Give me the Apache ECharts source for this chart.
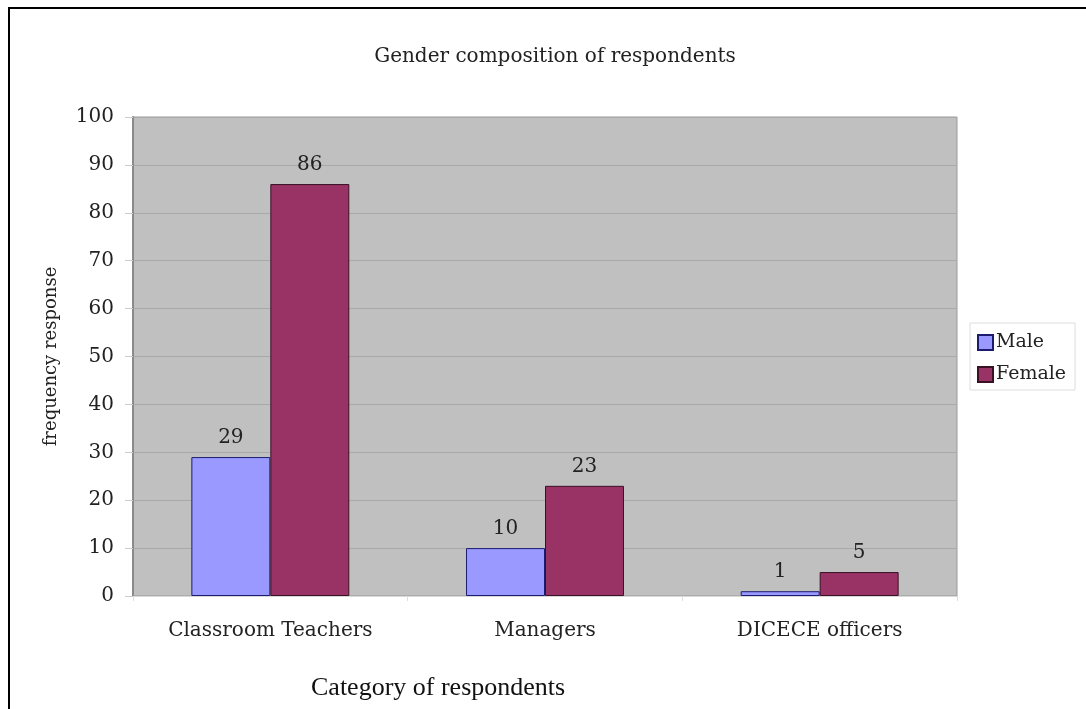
<!DOCTYPE html>
<html>
<head>
<meta charset="utf-8">
<script src="https://cdn.jsdelivr.net/npm/echarts@6/dist/echarts.min.js"></script>
<style>
  html, body { margin: 0; padding: 0; background: #fff; }
  #container { width: 1086px; height: 709px; }
</style>
</head>
<body>
<div id="container"></div>
<script>
var categories = ['Classroom Teachers', 'Managers', 'DICECE officers'];
var maleValues = [29, 10, 1];
var femaleValues = [86, 23, 5];
var yTicks = [0, 10, 20, 30, 40, 50, 60, 70, 80, 90, 100];

// the chart text is a wide serif, DejaVu Serif is the closest installed
var serif = '"DejaVu Serif", serif';

var dom = document.getElementById('container');
var myChart = echarts.init(dom);

var labelStyle = {
    show: true,
    position: 'top',
    distance: 9,
    fontFamily: serif,
    fontSize: 20,
    color: '#222'
};

option = {
    animation: false,
    backgroundColor: '#fff',
    title: {
        text: 'Gender composition of respondents',
        left: 550,
        textAlign: 'center',
        top: 42,
        textStyle: {
            fontFamily: serif,
            fontSize: 20,
            fontWeight: 'normal',
            color: '#222'
        }
    },
    legend: {
        orient: 'vertical',
        left: 970,
        top: 323,
        padding: [10, 9, 6, 7],
        itemGap: 13,
        icon: 'rect',
        itemWidth: 15,
        itemHeight: 15,
        borderColor: '#ddd',
        borderWidth: 1,
        textStyle: {
            fontFamily: serif,
            fontSize: 19,
            color: '#222',
            padding: [0, 0, 0, -2]
        },
        data: ['Male', 'Female']
    },
    grid: {
        left: 133,
        top: 117,
        right: 129,
        bottom: 113,
        show: true,
        backgroundColor: '#c0c0c0',
        borderColor: '#9a9a9a',
        borderWidth: 1
    },
    xAxis: {
        type: 'category',
        data: categories,
        axisLine: { show: true, lineStyle: { color: '#d8d8d8', width: 1 } },
        axisTick: { show: true, length: 5, lineStyle: { color: '#ddd' } },
        axisLabel: {
            margin: 25,
            fontFamily: serif,
            fontSize: 20,
            color: '#222'
        }
    },
    yAxis: {
        type: 'value',
        min: 0,
        max: 100,
        interval: 10,
        name: 'frequency response',
        nameLocation: 'middle',
        nameGap: 73,
        nameTextStyle: {
            fontFamily: serif,
            fontSize: 18,
            color: '#222'
        },
        axisLine: { show: true, lineStyle: { color: '#8a8a8a', width: 2 } },
        axisTick: { show: true, length: 8, lineStyle: { color: '#ccc' } },
        axisLabel: {
            margin: 19,
            fontFamily: serif,
            fontSize: 20,
            color: '#222',
            formatter: function (v) { return yTicks.indexOf(v) >= 0 ? String(v) : ''; }
        },
        splitLine: { show: true, lineStyle: { color: '#a9a9a9', width: 1 } }
    },
    series: [{
        name: 'Male',
        type: 'bar',
        data: maleValues,
        barGap: '0%',
        barCategoryGap: '42.5%',
        itemStyle: { color: '#9999ff', borderColor: '#1c1c6e', borderWidth: 1 },
        label: labelStyle
    }, {
        name: 'Female',
        type: 'bar',
        data: femaleValues,
        itemStyle: { color: '#993366', borderColor: '#3a1024', borderWidth: 1 },
        label: labelStyle
    }],
    graphic: [{
        type: 'line',
        shape: { x1: 9, y1: 8, x2: 9, y2: 709 },
        style: { stroke: '#000', lineWidth: 2 }
    }, {
        type: 'line',
        shape: { x1: 8, y1: 8, x2: 1086, y2: 8 },
        style: { stroke: '#000', lineWidth: 2 }
    }, {
        type: 'text',
        left: 311,
        top: 675,
        style: {
            text: 'Category of respondents',
            font: '26px "Liberation Serif", serif',
            fill: '#111'
        }
    }]
};
myChart.setOption(option);

window.addEventListener("resize", function () {
    myChart.resize();
});
</script>
</body>
</html>
